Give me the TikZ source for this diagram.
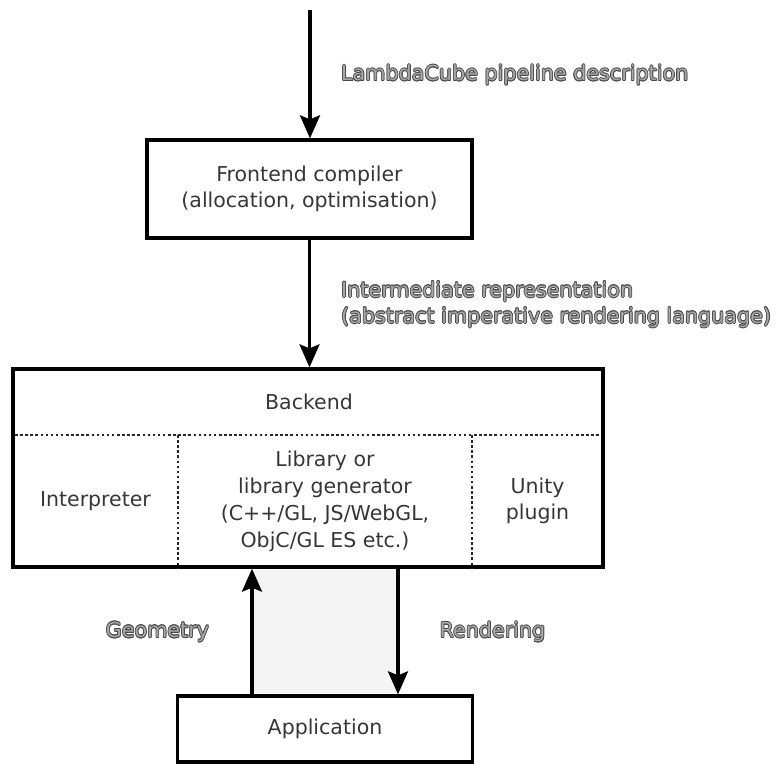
\documentclass[tikz,border=0pt]{standalone}
\usepackage{fontspec}
\setmainfont{DejaVu Sans}
\usetikzlibrary{arrows.meta}

\definecolor{boxtext}{HTML}{363636}
\definecolor{lbledge}{HTML}{484848}
\definecolor{lblfill}{HTML}{A8A8A8}
\definecolor{panel}{HTML}{F4F4F4}
\definecolor{dots}{HTML}{262626}

% one dark copy of a label, shifted by (#1,#2)
\newcommand\haloshift[3]{\rlap{\kern#1\raisebox{#2}{\color{lbledge}#3}}}
% label text with a dark outline and a grey fill
\newcommand\outlined[1]{\leavevmode
  \haloshift{0.8pt}{0pt}{#1}\haloshift{-0.8pt}{0pt}{#1}%
  \haloshift{0pt}{0.8pt}{#1}\haloshift{0pt}{-0.8pt}{#1}%
  \haloshift{0.57pt}{0.57pt}{#1}\haloshift{-0.57pt}{0.57pt}{#1}%
  \haloshift{0.57pt}{-0.57pt}{#1}\haloshift{-0.57pt}{-0.57pt}{#1}%
  {\color{lblfill}#1}}

\tikzset{
  txt/.style={font=\fontsize{20.5}{26}\selectfont, text=boxtext, align=center, inner sep=0pt},
  box/.style={txt, draw=black, line width=3.3pt},
  lbl/.style={font=\fontsize{20.7}{26}\selectfont, inner sep=0pt},
  flow/.style={line width=3.2pt, -{Stealth[length=23pt,width=20pt,inset=4pt]}},
  divider/.style={draw=dots, line width=2.7pt, dash pattern=on 2.5pt off 2.6pt},
}

\begin{document}
\begin{tikzpicture}[x=1pt,y=-1pt]
\useasboundingbox (0,0) rectangle (779,764);

% frontend
\node[box, minimum width=325pt, minimum height=98pt] (front) at (309.5,189)
  {Frontend compiler\\(allocation, optimisation)};

% backend frame and its cells
\node[draw=black, line width=3.3pt, minimum width=590pt, minimum height=198pt, inner sep=0pt] (back) at (308,468) {};
\node[txt] (backlbl) at (309,402) {Backend};
\node[txt] (interp) at (95.5,501) {Interpreter};
\node[txt, font=\fontsize{20.5}{27}\selectfont] (lib) at (325,501)
  {Library or\\library generator\\(C++/GL, JS/WebGL,\\ObjC/GL ES etc.)};
\node[txt] (unity) at (537.5,501) {Unity\\plugin};

\coordinate (rowL) at (15,435);
\coordinate (rowR) at (601,435);
\coordinate (colA) at (178,435);
\coordinate (colB) at (472,435);
\draw[divider] (rowL) -- (rowR);
\draw[divider] (colA) -- (colA |- back.south);
\draw[divider] (colB) -- (colB |- back.south);

% application
\node[box, minimum width=295pt, minimum height=66pt] (app) at (325,729) {Application};

% exchange between application and backend
\coordinate (gx) at (252,0);
\coordinate (rx) at (398,0);
\fill[panel] ([yshift=-1.6pt]back.south -| gx) rectangle ([yshift=1.6pt]app.north -| rx);

% connectors
\coordinate (src) at (310,10);
\draw[flow] (src) -- (src |- front.north);
\draw[flow] (front.south) -- (front.south |- back.north);
\draw[flow] (app.north -| gx) -- (back.south -| gx);
\draw[flow] (back.south -| rx) -- (app.north -| rx);

% labels
\node[lbl, anchor=west] (inlbl) at (341,75) {\outlined{LambdaCube pipeline description}};
\node[lbl, anchor=west] (irlbl) at (341,305)
  {\outlined{\begin{tabular}{@{}l@{}}Intermediate representation\\(abstract imperative rendering language)\end{tabular}}};
\node[lbl] (geolbl) at (157.5,632) {\outlined{Geometry}};
\node[lbl] (renlbl) at (492.5,632) {\outlined{Rendering}};
\end{tikzpicture}
\end{document}
